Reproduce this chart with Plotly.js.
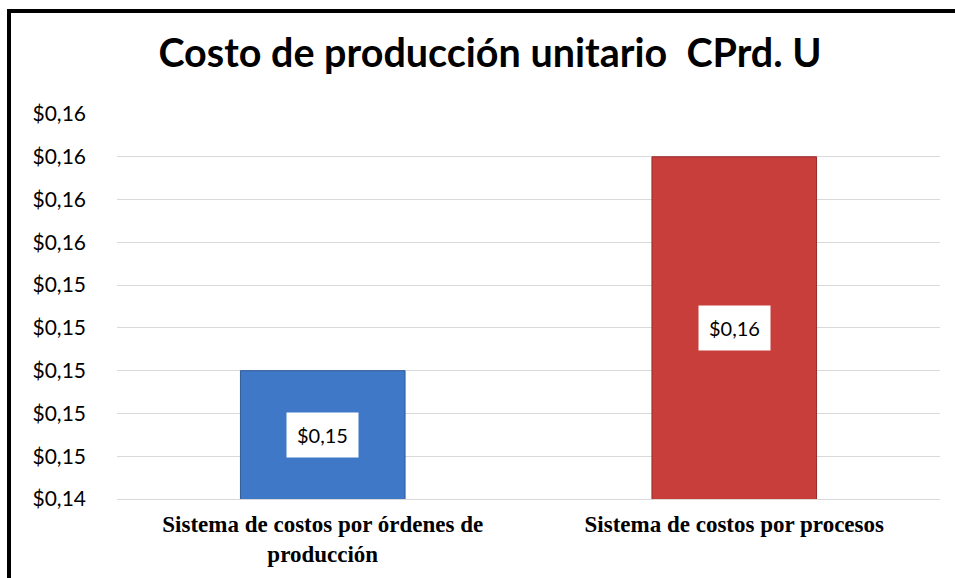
<!DOCTYPE html>
<html><head><meta charset="utf-8">
<script src="https://cdn.plot.ly/plotly-3.0.1.min.js"></script>
<style>
html,body{margin:0;padding:0;background:#fff;overflow:hidden;}
#chart{width:955px;height:578px;position:absolute;left:0;top:0;}
#frame{position:absolute;left:7px;top:9px;width:1000px;height:1000px;border:4px solid #000;pointer-events:none;}
</style></head>
<body>
<div id="chart"></div>
<div id="frame"></div>
<script>
const categories = ["Sistema de costos por órdenes de<br>producción", "Sistema de costos por procesos"];
const values = [0.150, 0.160];
const barColors = ["#3f78c6", "#c83e3b"];
const barLines = ["#2f5a96", "#962c2a"];
const valueLabels = ["$0,15", "$0,16"];
const yMin = 0.144, yMax = 0.162, yStep = 0.002;

const trace = {
  type: "bar", x: categories, y: values,
  marker: {color: barColors, line: {color: barLines, width: 1}},
  hoverinfo: "none"
};
const annotations = categories.map((c, i) => ({
  x: c, y: (yMin + values[i]) / 2, xref: "x", yref: "y",
  text: valueLabels[i], showarrow: false,
  bgcolor: "#ffffff", borderpad: 10,
  font: {family: "Lato, 'Open Sans', sans-serif", size: 20, color: "#000"}
}));
const layout = {
  width: 955, height: 578,
  margin: {l: 117, r: 15, t: 114, b: 79},
  paper_bgcolor: "#fff", plot_bgcolor: "#fff",
  separators: ",.",
  showlegend: false,
  bargap: 0.6,
  title: {text: "<b>Costo de producción unitario  CPrd. U</b>", x: 490/955, xanchor: "center",
          y: 1 - 53/578, yanchor: "middle",
          font: {family: "Lato, 'Open Sans', sans-serif", size: 39.5, color: "#000"}},
  xaxis: {type: "category", showgrid: false, showline: true, linecolor: "#d9d9d9", linewidth: 1,
          ticks: "", ticklabelstandoff: 4,
          tickfont: {family: "'Liberation Serif', 'Times New Roman', serif", size: 23, color: "#000", weight: "bold"}},
  yaxis: {range: [yMin, yMax], tick0: yMin, dtick: yStep, tickmode: "linear",
          tickprefix: "$", tickformat: ".2f",
          showgrid: true, gridcolor: "#d9d9d9", gridwidth: 1, zeroline: false, showline: false,
          ticks: "", ticklabelstandoff: 30,
          tickfont: {family: "Lato, 'Open Sans', sans-serif", size: 21, color: "#000"}},
  annotations: annotations
};
Plotly.newPlot("chart", [trace], layout, {displayModeBar: false, staticPlot: true});
</script>
</body></html>
